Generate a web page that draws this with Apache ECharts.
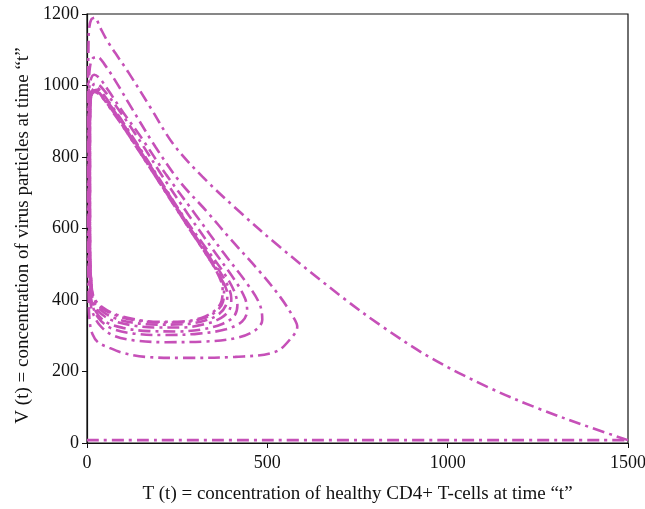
<!DOCTYPE html>
<html>
<head>
<meta charset="utf-8">
<script src="https://cdn.jsdelivr.net/npm/echarts@6/dist/echarts.min.js"></script>
<style>
  html, body { margin: 0; padding: 0; background: #fff; }
  #chart { width: 645px; height: 509px; }
</style>
</head>
<body>
<div id="chart"></div>
<script>
// Phase portrait: healthy CD4+ T-cells (T) against virus particles (V).
// Each array is one stretch of the trajectory as [T, V] pairs.
const xTicks = [0, 500, 1000, 1500];
const yTicks = [0, 200, 400, 600, 800, 1000, 1200];

const baseline = [[0, 8], [1500, 8]];

const firstSweep = [
  [1500, 8], [1400, 42], [1250, 97], [1110, 157], [950, 240], [820, 325],
  [710, 406], [535, 548], [424, 646], [320, 745], [240, 835], [175, 940],
  [114, 1038], [58, 1122], [35, 1165], [22, 1190], [12, 1185], [6, 1160],
  [4, 1100], [3, 1000], [3, 800], [3, 600], [4, 450], [5, 380]
];

const loop1 = [
  [5, 380], [8, 335], [15, 305], [30, 282], [58, 268], [100, 252], [161, 241],
  [272, 238], [411, 241], [522, 255], [569, 297], [583, 325], [572, 352],
  [536, 408], [480, 478], [400, 568], [330, 650], [258, 730], [190, 828],
  [119, 945], [86, 1001], [50, 1057], [28, 1080], [15, 1075], [8, 1050],
  [5, 1000], [4, 850], [4, 650], [5, 480], [8, 410]
];

const loop2 = [
  [8, 410], [14, 370], [35, 330], [70, 302], [130, 287], [220, 282], [330, 284],
  [420, 295], [470, 318], [486, 345], [478, 390], [443, 447], [380, 530],
  [300, 640], [220, 750], [150, 855], [100, 925], [60, 985], [35, 1020],
  [20, 1030], [10, 1015], [6, 980], [5, 850], [6, 650], [7, 500], [10, 425]
];

const loop3 = [
  [10, 425], [14, 390], [30, 352], [65, 322], [130, 306], [220, 302], [310, 306],
  [385, 318], [430, 340], [444, 370], [438, 405], [410, 455], [350, 540],
  [280, 640], [210, 745], [150, 840], [100, 915], [60, 970], [35, 1000],
  [22, 1005], [12, 990], [7, 950], [6, 800], [6, 600], [8, 470], [10, 440]
];

const loop4 = [
  [10, 440], [12, 410], [22, 372], [50, 340], [100, 322], [170, 313], [250, 312],
  [320, 318], [375, 333], [408, 355], [417, 385], [408, 425], [380, 475],
  [330, 545], [270, 630], [200, 740], [140, 835], [95, 905], [60, 955],
  [38, 985], [25, 995], [14, 985], [8, 955], [7, 850], [7, 650], [8, 500], [10, 440]
];

const loop5 = [
  [10, 440], [14, 400], [30, 370], [65, 345], [120, 330], [190, 323], [260, 323],
  [325, 332], [372, 350], [396, 375], [400, 405], [388, 445], [355, 500],
  [300, 580], [235, 680], [170, 785], [115, 870], [75, 930], [45, 970],
  [28, 988], [16, 982], [10, 955], [8, 850], [8, 650], [9, 500], [12, 440]
];

const loop6 = [
  [12, 440], [17, 400], [35, 375], [70, 352], [125, 337], [195, 331], [265, 332],
  [325, 342], [365, 360], [385, 385], [389, 415], [375, 455], [345, 505],
  [290, 590], [225, 690], [165, 785], [110, 870], [72, 925], [44, 965],
  [27, 984], [16, 980], [10, 955], [8, 850], [8, 650], [9, 500], [12, 445]
];

const loop7 = [
  [12, 445], [18, 405], [40, 378], [80, 357], [135, 343], [200, 337], [265, 338],
  [320, 348], [358, 368], [377, 395], [380, 430], [368, 470], [340, 520],
  [290, 595], [230, 690], [175, 775], [120, 860], [85, 915], [55, 955],
  [35, 978], [22, 985], [13, 975], [9, 945], [8, 850], [8, 650], [9, 500], [12, 445]
];

const loop8 = [
  [12, 445], [19, 407], [42, 380], [82, 359], [137, 345], [200, 339], [263, 340],
  [317, 350], [354, 370], [373, 397], [376, 430], [365, 468], [337, 518],
  [288, 592], [228, 687], [173, 772], [118, 857], [83, 912], [54, 952],
  [34, 975], [21, 982], [12, 972], [9, 940], [8, 850], [8, 650], [9, 500], [13, 440]
];

const segments = [baseline, firstSweep, loop1, loop2, loop3, loop4, loop5, loop6, loop7, loop8];

const curveColor = '#C650B8';
const textFont = 'Liberation Serif';

const chart = echarts.init(document.getElementById('chart'), null, { renderer: 'canvas' });

function plainNumber(v) { return String(v); }

chart.setOption({
  backgroundColor: '#ffffff',
  animation: false,
  grid: {
    left: 87, right: 17, top: 14, bottom: 66,
    outerBoundsMode: 'none',
    show: true, borderColor: '#111', borderWidth: 1.2, backgroundColor: 'transparent'
  },
  xAxis: {
    type: 'value',
    min: xTicks[0], max: xTicks[xTicks.length - 1], interval: 500,
    name: 'T (t) = concentration of healthy CD4+ T-cells at time \u201ct\u201d',
    nameLocation: 'middle', nameGap: 42,
    nameTextStyle: { fontFamily: textFont, fontSize: 19, color: '#111' },
    axisLine: { show: true, lineStyle: { color: '#111', width: 1.2 } },
    axisTick: { show: true, inside: false, length: 5, lineStyle: { color: '#111' } },
    axisLabel: { fontFamily: textFont, fontSize: 18, color: '#111', margin: 11, formatter: plainNumber },
    splitLine: { show: false }
  },
  yAxis: {
    type: 'value',
    min: yTicks[0], max: yTicks[yTicks.length - 1], interval: 200,
    name: 'V (t) = concentration of virus particles at time \u201ct\u201d',
    nameLocation: 'middle', nameGap: 53, nameRotate: 90,
    nameTextStyle: { fontFamily: textFont, fontSize: 19, color: '#111', padding: [0, 14, 0, 0] },
    axisLine: { show: true, lineStyle: { color: '#111', width: 1.2 } },
    axisTick: { show: true, inside: false, length: 5, lineStyle: { color: '#111' } },
    axisLabel: { fontFamily: textFont, fontSize: 18, color: '#111', margin: 8, formatter: plainNumber },
    splitLine: { show: false }
  },
  series: segments.map(function (seg) {
    return {
      type: 'line',
      data: seg,
      showSymbol: false,
      smooth: 0.35,
      clip: true,
      lineStyle: { color: curveColor, width: 2.6, type: [12, 5, 3, 5], cap: 'butt' }
    };
  })
});
</script>
</body>
</html>
